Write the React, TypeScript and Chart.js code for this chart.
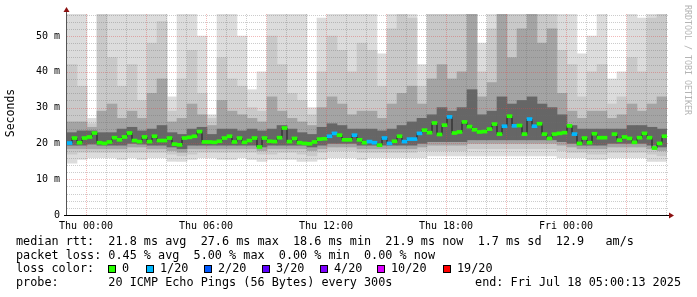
import React, { useEffect, useRef } from 'react';
import { Chart, registerables } from 'chart.js';

Chart.register(...registerables);

// ---- axis ranges (hours relative to Thu 00:00) ----
const START_H = -0.95;
const END_H = 29.05;
const Y_MAX = 56.15;
const SLOT_H = 0.5; // smoke resolution (30 min)
const STEP_H = 0.25; // median resolution (15 min)

const xTickHours = [0, 6, 12, 18, 24];
const xTickLabels = ['Thu 00:00', 'Thu 06:00', 'Thu 12:00', 'Thu 18:00', 'Fri 00:00'];
const yTickValues = [0, 10, 20, 30, 40, 50];
const yTickLabels = ['0', '10 m', '20 m', '30 m', '40 m', '50 m'];

// ---- smoke bands (ms), 60 slots of 30 minutes ----
const smokeALo = [14.5, 15.5, 16, 16, 16, 15.5, 16, 15.5, 16, 16, 15, 15, 15.5, 16, 16, 15.5, 15.5, 16, 15.5, 15, 15.5, 15.5, 15.5, 15, 15, 15.5, 16, 16, 16, 15.5, 16, 16, 16, 16, 16, 16, 16.5, 16.5, 16.5, 16.5, 16.5, 16.5, 16.5, 16.5, 16.5, 16.5, 16.5, 16.5, 16.5, 16, 16, 16, 15.5, 15.5, 16, 16, 16, 16, 15, 15];
const smokeAHi = [60, 60, 27, 60, 60, 60, 60, 60, 60, 60, 33, 60, 60, 50, 28, 60, 60, 50, 35, 40, 60, 60, 60, 60, 30, 55, 60, 60, 60, 60, 60, 45, 60, 60, 60, 42, 60, 60, 60, 60, 60, 48, 60, 60, 60, 60, 60, 60, 60, 60, 60, 45, 50, 60, 38, 40, 60, 55, 60, 60];
const smokeBLo = [17, 17.5, 17.5, 17.5, 17.5, 17.5, 17.5, 17.5, 17.5, 17.5, 17, 16.5, 17, 17.5, 17.5, 17.5, 17.5, 17.5, 17.5, 17, 17, 17.5, 17.5, 17, 16.5, 17.5, 18, 18, 18, 17.5, 17.5, 17.5, 17.5, 17.5, 17.5, 18, 18, 18, 18, 18, 18.5, 18.5, 18.5, 18.5, 18.5, 18.5, 18.5, 18.5, 18.5, 18, 17.5, 17.5, 17, 17, 17.5, 17.5, 17.5, 17.5, 17, 16.5];
const smokeBHi = [42, 36, 25.5, 56, 44, 36, 42, 32, 48, 54, 29, 38, 46, 34, 27, 44, 38, 36, 30, 29, 50, 42, 34, 32, 28, 40, 50, 46, 40, 48, 46, 36, 52, 60, 55, 36, 60, 60, 56, 60, 60, 40, 52, 60, 60, 60, 60, 60, 60, 46, 42, 33, 40, 42, 31, 33, 44, 40, 55, 58];
const smokeCLo = [18.5, 18.5, 18.5, 18.5, 18.5, 18.5, 19, 19, 18.5, 18.5, 18, 17.5, 18.5, 18.5, 18.5, 18.5, 18.5, 18.5, 18.5, 18, 18.5, 18.5, 18.5, 18.5, 18, 18.5, 19, 19, 19, 18.5, 18.5, 18.5, 18.5, 18.5, 18.5, 19, 19.5, 19.5, 19.5, 19.5, 20, 20, 20, 20, 20, 20, 20, 20, 20, 19.5, 19, 18.5, 18.5, 18.5, 19, 19, 19, 19, 18.5, 18];
const smokeCHi = [26, 26, 24.5, 29, 31, 27, 29, 27, 34, 38, 26, 27, 31, 28, 25, 32, 29, 28, 27, 26, 33, 29, 27, 26, 25, 30, 33, 31, 28, 29, 29, 27, 31, 34, 36, 31, 38, 42, 38, 40, 60, 33, 37, 60, 44, 52, 60, 48, 52, 34, 29, 27, 29, 29, 27, 28, 31, 29, 31, 33];
const smokeDLo = [19.5, 19.5, 19.8, 19.5, 19.5, 19.5, 20, 19.8, 19.5, 19.5, 19, 18.5, 19.5, 19.5, 19.5, 19.5, 19.5, 19.5, 19.5, 19, 19.5, 19.5, 19.5, 19.5, 19, 19.5, 20, 20, 20, 19.5, 19.5, 19.5, 19.5, 19.5, 19.5, 20, 20.5, 20.5, 20.5, 20.5, 21, 21, 21, 21, 21, 21, 21, 21, 21, 20.5, 20, 19.5, 19.5, 19.5, 20, 20, 20, 20, 19.5, 19];
const smokeDHi = [23, 23.5, 23.5, 23, 23, 24, 24.5, 23.5, 24, 25, 23, 22.5, 24, 24.5, 22.5, 24, 24, 23.5, 24, 23.5, 24, 25, 24, 23, 22.5, 24.5, 25.5, 25, 24, 24, 24, 23.5, 24, 25, 26, 27, 28, 30, 29, 30, 35, 28, 29, 33, 31, 32, 33, 31, 30, 28, 25, 24, 24, 24, 24, 24, 25, 25, 24.5, 24];

// ---- median rtt (ms), 120 steps of 15 minutes ----
const medianMs: (number | null)[] = [
  20.1, 21.5, 20.2, 21.5, 21.8, 22.9, 20.2, 20, 20.4, 21.6,
  21, 21.8, 22.9, 20.8, 20.5, 21.8, 20.5, 22, 20.8, 20.8,
  21.5, 19.8, 19.6, 21.5, 21.7, 22, 23.3, 20.4, 20.4, 20.3,
  20.6, 21.5, 22, 20.4, 21.5, 20.3, 20.8, 21.5, 19, 21.5,
  20.6, 20.5, 21.6, 24.3, 20.5, 21.4, 20.2, 20, 19.9, 20.4,
  21.2, 21.3, 22, 22.8, 22.3, 21, 21, 22.3, 21, 20.2,
  20.5, 20.2, 19.5, 21.5, 20, 20.6, 22, 20.5, 21.2, 21.2,
  22.8, 23.7, 23, 25.7, 22.5, 25.1, 27.4, 22.9, 23.2, 26,
  24.7, 23.8, 23.2, 23.3, 24, 25.4, 22.6, 24.8, 27.6, 24.9,
  25, 22.6, 26.8, 24.8, 25.5, 22.6, 21.4, 22.6, 22.8, 23,
  24.9, 22.6, 20, 21.5, 20.2, 22.7, 21.6, 21.6, null, 22.6,
  20.9, 21.8, 21.4, 20.3, 21.6, 22.8, 21.6, 18.7, 20, 22,
];
// lost pings out of 20 for each median step
const lossCount = [
  1, 0, 0, 0, 0, 0, 0, 0, 0, 0,
  0, 0, 0, 0, 0, 0, 0, 0, 0, 0,
  0, 0, 0, 0, 0, 0, 0, 0, 0, 0,
  0, 0, 0, 0, 0, 0, 0, 0, 0, 0,
  0, 0, 0, 0, 0, 0, 0, 0, 0, 0,
  0, 0, 1, 1, 0, 0, 0, 1, 0, 0,
  1, 1, 0, 1, 1, 0, 0, 1, 1, 1,
  1, 0, 0, 0, 0, 0, 1, 0, 0, 0,
  0, 0, 0, 0, 0, 0, 0, 1, 0, 1,
  0, 0, 1, 1, 0, 0, 0, 0, 0, 0,
  0, 1, 0, 0, 0, 0, 0, 0, 0, 0,
  0, 0, 0, 0, 0, 0, 0, 0, 0, 0,
];

const lossLegendLabels = ['0', '1/20', '2/20', '3/20', '4/20', '10/20', '19/20'];
const lossLegendColors = ['#26ff00', '#00b8ff', '#0059ff', '#5e00ff', '#7e00ff', '#dd00ff', '#ff0000'];

const legendLine1 = 'median rtt:  21.8 ms avg  27.6 ms max  18.6 ms min  21.9 ms now  1.7 ms sd  12.9   am/s';
const legendLine2 = 'packet loss: 0.45 % avg  5.00 % max  0.00 % min  0.00 % now';
const legendLine3 = 'loss color:';
const legendLine4 = 'probe:       20 ICMP Echo Pings (56 Bytes) every 300s';
const legendEnd = 'end: Fri Jul 18 05:00:13 2025';
const watermark = 'RRDTOOL / TOBI OETIKER';

const MONO = '"DejaVu Sans Mono", monospace';
const MEDIAN_HALF = 0.42; // half thickness of the loss-coloured median mark, in ms

function lossColor(n: number) {
  if (n <= 0) return lossLegendColors[0];
  if (n === 1) return lossLegendColors[1];
  if (n === 2) return lossLegendColors[2];
  if (n === 3) return lossLegendColors[3];
  if (n <= 5) return lossLegendColors[4];
  if (n <= 10) return lossLegendColors[5];
  return lossLegendColors[6];
}

const decoPlugin = {
  id: 'smokeDeco',
  beforeDatasetDraw(chart: any, args: any) {
    if (args.index !== 1) return;
    const { ctx, chartArea: a, scales } = chart;
    const xs = scales.x;
    const ys = scales.y;
    ctx.save();
    ctx.lineWidth = 1;
    ctx.setLineDash([1, 1]);
    const minor = 'rgba(110,110,110,0.35)';
    const major = 'rgba(220,70,70,0.38)';
    for (let h = Math.ceil(START_H); h <= END_H; h++) {
      const px = Math.round(xs.getPixelForValue(h)) + 0.5;
      ctx.strokeStyle = h % 3 === 0 ? major : minor;
      ctx.beginPath();
      ctx.moveTo(px, a.top);
      ctx.lineTo(px, a.bottom);
      ctx.stroke();
    }
    for (let v = 2; v < Y_MAX; v += 2) {
      const py = Math.round(ys.getPixelForValue(v)) + 0.5;
      ctx.strokeStyle = v % 10 === 0 ? major : minor;
      ctx.beginPath();
      ctx.moveTo(a.left, py);
      ctx.lineTo(a.right + 2, py);
      ctx.stroke();
    }
    ctx.restore();
  },
  afterDraw(chart: any) {
    const { ctx, chartArea: a } = chart;
    ctx.save();
    // axes
    ctx.fillStyle = '#555';
    ctx.fillRect(a.left - 1, a.top - 4, 1, a.bottom - a.top + 5);
    ctx.fillStyle = '#000';
    ctx.fillRect(a.left - 3, a.bottom, a.right - a.left + 6, 1);
    ctx.fillStyle = '#8b1010';
    ctx.beginPath();
    ctx.moveTo(a.left - 0.5, a.top - 7);
    ctx.lineTo(a.left - 3.5, a.top - 2);
    ctx.lineTo(a.left + 2.5, a.top - 2);
    ctx.closePath();
    ctx.fill();
    ctx.beginPath();
    ctx.moveTo(a.right + 7, a.bottom + 0.5);
    ctx.lineTo(a.right + 2, a.bottom - 2.5);
    ctx.lineTo(a.right + 2, a.bottom + 3.5);
    ctx.closePath();
    ctx.fill();

    // y title
    ctx.fillStyle = '#000';
    ctx.font = `11.5px ${MONO}`;
    ctx.textAlign = 'center';
    ctx.textBaseline = 'middle';
    ctx.save();
    ctx.translate(11, 113);
    ctx.rotate(-Math.PI / 2);
    ctx.fillText('Seconds', 0, 0);
    ctx.restore();

    // watermark
    ctx.save();
    ctx.fillStyle = '#b4b4b4';
    ctx.font = `8.3px ${MONO}`;
    ctx.translate(687, 60);
    ctx.rotate(Math.PI / 2);
    ctx.fillText(watermark, 0, 0);
    ctx.restore();

    // legend
    ctx.font = `11.8px ${MONO}`;
    ctx.textAlign = 'left';
    ctx.fillStyle = '#000';
    ctx.fillText(legendLine1, 16, 242);
    ctx.fillText(legendLine2, 16, 255.5);
    ctx.fillText(legendLine3, 16, 269);
    ctx.fillText(legendLine4, 16, 283);
    ctx.textAlign = 'right';
    ctx.fillText(legendEnd, 681, 283);
    ctx.textAlign = 'left';
    const sq = [108, 146, 204, 262, 320, 377, 443];
    lossLegendLabels.forEach((lab, i) => {
      ctx.fillStyle = lossLegendColors[i];
      ctx.fillRect(sq[i], 265, 8, 8);
      ctx.strokeStyle = '#000';
      ctx.lineWidth = 1;
      ctx.strokeRect(sq[i] + 0.5, 265.5, 7, 7);
      ctx.fillStyle = '#000';
      ctx.fillText(lab, sq[i] + 14, 269);
    });
    ctx.restore();
  },
};

export default function App() {
  const ref = useRef<HTMLCanvasElement>(null);
  useEffect(() => {
    const canvas = ref.current!;
    const slotTime = (i: number) => START_H + (i + 0.5) * SLOT_H;
    const stepTime = (k: number) => START_H + (k + 0.5) * STEP_H;
    const pxPerHour = 600 / (END_H - START_H);
    const band = (lo: number[], hi: number[], color: string) => ({
      type: 'bar',
      data: lo.map((l, i) => ({ x: slotTime(i), y: [l, hi[i]] })),
      backgroundColor: color,
      borderWidth: 0,
      grouped: false,
      barThickness: SLOT_H * pxPerHour,
      clip: 0,
    });
    const medianData = medianMs.map((v, k) => ({ x: stepTime(k), y: v }));
    const medianMarks = medianMs.map((v, k) => ({
      x: stepTime(k),
      y: v === null ? null : [v - MEDIAN_HALF, v + MEDIAN_HALF],
    }));
    const chart = new Chart(canvas, {
      type: 'bar',
      data: {
        datasets: [
          {
            type: 'bar',
            data: medianMarks,
            backgroundColor: (c: any) => lossColor(lossCount[c.dataIndex] ?? 0),
            borderWidth: 0,
            grouped: false,
            barThickness: STEP_H * pxPerHour,
            clip: 0,
          },
          {
            type: 'line',
            data: medianData,
            borderColor: '#1c1c1c',
            borderWidth: 1,
            stepped: 'middle',
            pointRadius: 0,
            spanGaps: false,
            clip: 0,
          },
          band(smokeDLo, smokeDHi, '#666666'),
          band(smokeCLo, smokeCHi, '#a4a4a4'),
          band(smokeBLo, smokeBHi, '#c9c9c9'),
          band(smokeALo, smokeAHi, '#dcdcdc'),
        ] as any,
      },
      options: {
        responsive: false,
        animation: false,
        devicePixelRatio: 1,
        events: [],
        layout: { padding: { left: 0, right: 30, top: 14, bottom: 0 } },
        plugins: { legend: { display: false }, tooltip: { enabled: false } },
        scales: {
          x: {
            type: 'linear',
            min: START_H,
            max: END_H,
            offset: false,
            grid: { display: false, drawTicks: false },
            border: { display: false },
            afterBuildTicks: (s: any) => {
              s.ticks = xTickHours.map((v) => ({ value: v }));
            },
            afterFit: (s: any) => {
              s.height = 82;
            },
            ticks: {
              autoSkip: false,
              maxRotation: 0,
              padding: 5,
              color: '#000',
              font: { family: MONO, size: 10 },
              callback: (v: any) => xTickLabels[xTickHours.indexOf(Number(v))] ?? '',
            },
          },
          y: {
            type: 'linear',
            min: 0,
            max: Y_MAX,
            grid: { display: false, drawTicks: false },
            border: { display: false },
            afterBuildTicks: (s: any) => {
              s.ticks = yTickValues.map((v) => ({ value: v }));
            },
            afterFit: (s: any) => {
              s.width = 67;
            },
            ticks: {
              padding: 7,
              color: '#000',
              font: { family: MONO, size: 10 },
              callback: (v: any) => yTickLabels[yTickValues.indexOf(Number(v))] ?? '',
            },
          },
        },
      } as any,
      plugins: [decoPlugin],
    });
    return () => chart.destroy();
  }, []);
  return (
    <div style={{ position: 'absolute', left: 0, top: 0, width: 697, height: 297, background: '#fff' }}>
      <canvas ref={ref} width={697} height={297} style={{ display: 'block', width: 697, height: 297 }} />
    </div>
  );
}
